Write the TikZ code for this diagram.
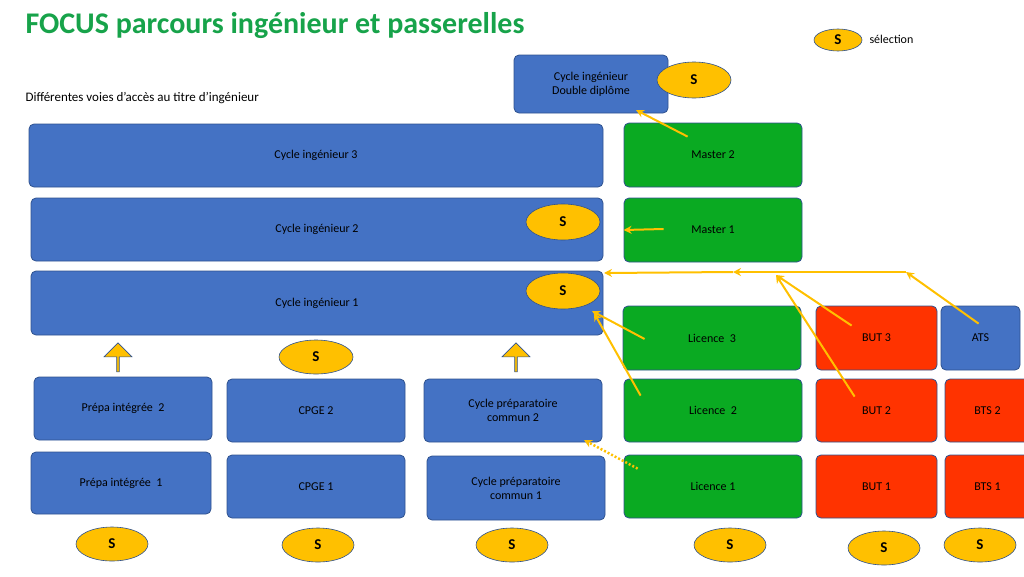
\documentclass[tikz,border=0pt]{standalone}
\usepackage{fontspec}
\setmainfont{Carlito}
\usetikzlibrary{shapes.geometric,shapes.arrows,arrows.meta}
\definecolor{bl}{HTML}{4472C4}
\definecolor{bld}{HTML}{2F528F}
\definecolor{gr}{HTML}{0AAA22}
\definecolor{rd}{HTML}{FF3300}
\definecolor{yl}{HTML}{FFC000}
\definecolor{tg}{HTML}{17A34A}
\tikzset{
 bx/.style={rounded corners=5pt,draw=bld,line width=0.8pt,font=\fontsize{12}{14}\selectfont,align=center,inner sep=0pt},
 bb/.style={bx,fill=bl},
 gb/.style={bx,fill=gr},
 rb/.style={bx,fill=rd},
 sel/.style={ellipse,fill=yl,draw=bld,line width=0.6pt,inner sep=0pt,font=\fontsize{15}{17}\selectfont\bfseries},
 con/.style={draw=yl,line width=2pt,-{Stealth[length=8pt,width=8pt]}},
 uparr/.style={single arrow,shape border rotate=90,fill=yl,draw=bld,line width=0.6pt,minimum width=28pt,single arrow head extend=3pt,minimum height=29pt,inner sep=0pt}
}
\newcommand{\bxat}[5]{\node[#1,minimum width={#4-#2},minimum height={#5-#3}] at ({(#2+#4)/2},{(#3+#5)/2})}
\begin{document}
\begin{tikzpicture}[x=1pt,y=-1pt]
\useasboundingbox (0,0) rectangle (1024,576);
\node[anchor=west,text=tg,font=\fontsize{30}{34}\selectfont\bfseries] (title) at (22,26) {FOCUS parcours ingénieur et passerelles};
\node[anchor=west,font=\fontsize{13}{15}\selectfont] (sub) at (22,98) {Différentes voies d’accès au titre d’ingénieur};
\node[sel,minimum width=48pt,minimum height=22pt] (ls) at (838,40) {S};
\node[anchor=west,font=\fontsize{12}{14}\selectfont] (lt) at (866,39) {sélection};

\bxat{bb}{514}{55}{668}{113} (dd) {Cycle ingénieur\\Double diplôme};
\bxat{bb}{29}{124}{603}{187} (c3) {Cycle ingénieur 3};
\bxat{bb}{31}{198}{603}{261} (c2) {Cycle ingénieur 2};
\bxat{bb}{31}{271}{603}{335} (c1) {Cycle ingénieur 1};
\bxat{gb}{624}{123}{802}{187} (m2) {Master 2};
\bxat{gb}{624}{198}{802}{262} (m1) {Master 1};
\bxat{gb}{623}{306}{801}{370} (l3) {Licence~~3};
\bxat{gb}{624}{379}{802}{442} (l2) {Licence~~2};
\bxat{gb}{624}{455}{802}{518} (l1) {Licence 1};
\bxat{rb}{816}{306}{937}{370} (b3) {BUT 3};
\bxat{bb}{941}{306}{1020}{370} (ats) {ATS};
\bxat{rb}{816}{379}{937}{442} (b2) {BUT 2};
\bxat{rb}{945}{379}{1030}{442} (t2) {BTS 2};
\bxat{rb}{816}{455}{937}{518} (b1) {BUT 1};
\bxat{rb}{945}{455}{1030}{518} (t1) {BTS 1};
\bxat{bb}{34}{377}{212}{440} (p2) {Prépa intégrée~~2};
\bxat{bb}{31}{452}{211}{514} (p1) {Prépa intégrée~~1};
\bxat{bb}{227}{379}{405}{442} (g2) {CPGE 2};
\bxat{bb}{227}{455}{405}{518} (g1) {CPGE 1};
\bxat{bb}{424}{379}{602}{442} (k2) {Cycle préparatoire\\commun 2};
\bxat{bb}{427}{456}{605}{520} (k1) {Cycle préparatoire\\commun 1};

\node[sel,minimum width=74pt,minimum height=36pt] (sdd) at (694,80) {S};
\node[sel,minimum width=74pt,minimum height=36pt] (sc2) at (563,222) {S};
\node[sel,minimum width=74pt,minimum height=36pt] (sc1) at (563,291) {S};
\node[sel,minimum width=74pt,minimum height=34pt] (sg) at (316,357) {S};
\foreach \n/\x/\y in {s1/112/544,s2/318/545,s3/512/545,s4/730/545,s5/884/548,s6/980/545}
  \node[sel,minimum width=72pt,minimum height=34pt] (\n) at (\x,\y) {S};

\node[uparr] (ua1) at (118,358) {};
\node[uparr] (ua2) at (516,358) {};

\coordinate (hA) at (906,272);
\coordinate (hB) at (776,275);
\coordinate (hM) at (733,272);
\coordinate (hE) at (604,273);
\coordinate (ddin) at (636,110);
\coordinate (c1in) at (592,311);
\coordinate (c1in2) at (594,313);
\coordinate (k2in) at (584,440);
\draw[con] (ats.north west)++(38,18) coordinate (atsS) -- (hA);
\draw[con] (hA) -- (hM);
\draw[con] (hM) -- (hE);
\draw[con] (b3.north west)++(36,20) coordinate (b3S) -- (hB);
\draw[con] (b2.north west)++(39,18) coordinate (b2S) -- (hB);
\draw[con] (m2.north west)++(64,14) coordinate (m2S) -- (ddin);
\draw[con] (m1.west)++(40,-1) coordinate (m1S) -- (m1.west);
\draw[con] (l3.west)++(22,1) coordinate (l3S) -- (c1in);
\draw[con] (l2.north west)++(17,17) coordinate (l2S) -- (c1in2);
\draw[con,dotted,line width=2.5pt] (l1.north west)++(14,14) coordinate (l1S) -- (k2in);
\end{tikzpicture}
\end{document}
